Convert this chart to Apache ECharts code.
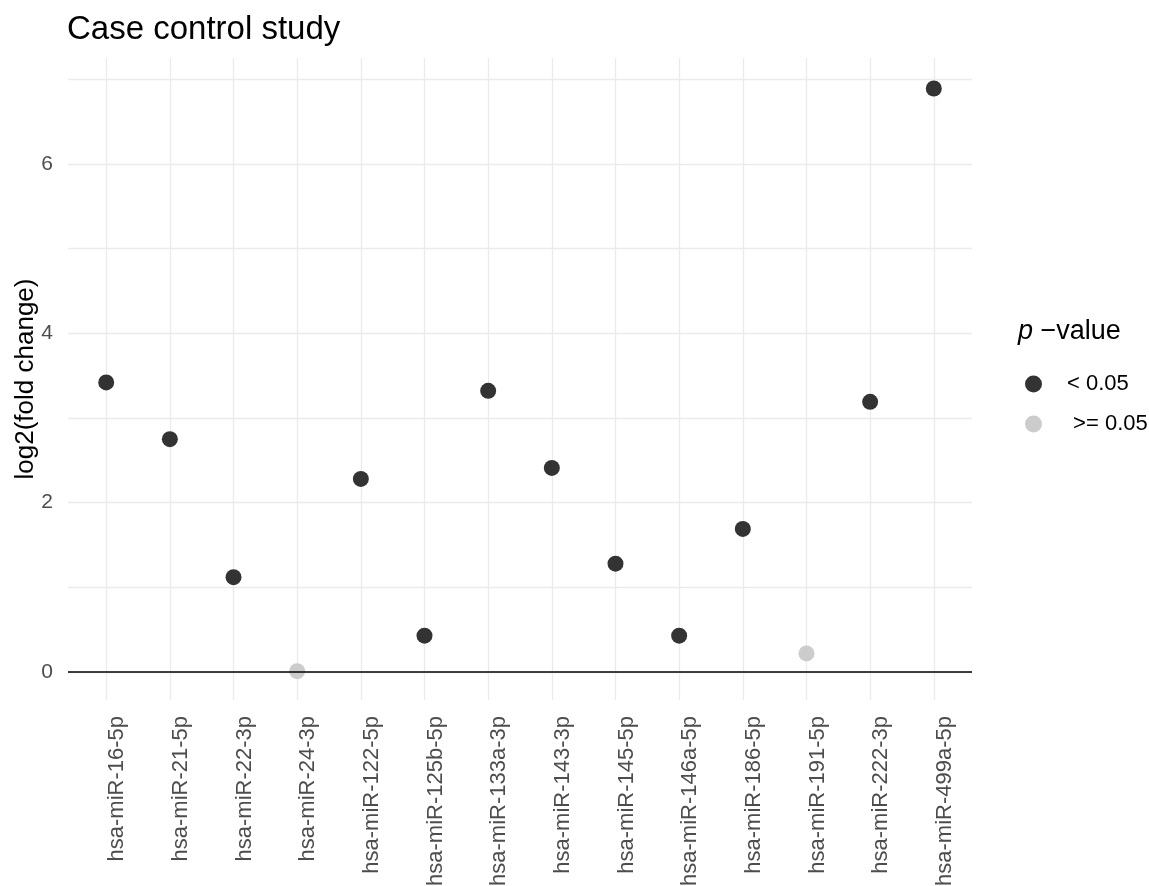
<!DOCTYPE html>
<html>
<head>
<meta charset="utf-8">
<title>Case control study</title>
<script src="https://cdn.jsdelivr.net/npm/echarts@6/dist/echarts.min.js"></script>
<style>
  html, body { margin: 0; padding: 0; background: #ffffff; }
  #chart { width: 1149px; height: 886px; }
</style>
</head>
<body>
<div id="chart"></div>
<script>
// microRNAs measured in the case control study
const categories = [
  'hsa-miR-16-5p', 'hsa-miR-21-5p', 'hsa-miR-22-3p', 'hsa-miR-24-3p',
  'hsa-miR-122-5p', 'hsa-miR-125b-5p', 'hsa-miR-133a-3p', 'hsa-miR-143-3p',
  'hsa-miR-145-5p', 'hsa-miR-146a-5p', 'hsa-miR-186-5p', 'hsa-miR-191-5p',
  'hsa-miR-222-3p', 'hsa-miR-499a-5p'
];
// log2(fold change) per microRNA
const log2FoldChange = [3.42, 2.75, 1.12, 0.01, 2.28, 0.43, 3.32, 2.41, 1.28, 0.43, 1.69, 0.22, 3.19, 6.89];
// p-value group per microRNA
const pGroup = ['sig', 'sig', 'sig', 'ns', 'sig', 'sig', 'sig', 'sig', 'sig', 'sig', 'sig', 'ns', 'sig', 'sig'];
const groupLabels = { sig: '< 0.05', ns: ' >= 0.05' };
const groupColors = { sig: '#333333', ns: '#CCCCCC' };
const yTickLabels = [0, 2, 4, 6];
const yGridValues = [0, 1, 2, 3, 4, 5, 6, 7];

const FONT = '"Liberation Sans", Arial, sans-serif';
const xIdx = categories.map((_, i) => i);

function pointsFor(group) {
  const out = [];
  categories.forEach((c, i) => {
    if (pGroup[i] === group) out.push([i, log2FoldChange[i]]);
  });
  return out;
}

const chart = echarts.init(document.getElementById('chart'), null, { renderer: 'canvas' });

chart.setOption({
  backgroundColor: '#ffffff',
  animation: false,
  title: {
    text: 'Case control study',
    left: 62,
    top: 8,
    textStyle: { fontFamily: FONT, fontSize: 33, fontWeight: 'normal', color: '#000000' }
  },
  grid: { left: 68, right: 177, top: 58, bottom: 186, containLabel: false, outerBoundsMode: 'none' },
  xAxis: {
    type: 'value',
    min: -0.6,
    max: 13.6,
    axisLine: { show: false },
    axisTick: { show: false, customValues: xIdx },
    splitLine: { show: true, lineStyle: { color: '#EBEBEB', width: 1.3 } },
    axisLabel: {
      customValues: xIdx,
      rotate: 90,
      margin: 16,
      verticalAlign: 'top',
      fontFamily: FONT,
      fontSize: 22,
      color: '#4D4D4D',
      formatter: v => categories[v]
    }
  },
  yAxis: {
    type: 'value',
    min: -0.33,
    max: 7.25,
    name: 'log2(fold change)',
    nameLocation: 'middle',
    nameGap: 29,
    nameMoveOverlap: false,
    nameTextStyle: { fontFamily: FONT, fontSize: 26, color: '#000000' },
    axisLine: { show: false },
    axisTick: { show: false, customValues: yGridValues },
    splitLine: { show: true, lineStyle: { color: '#EBEBEB', width: 1.3 } },
    axisLabel: {
      customValues: yTickLabels,
      margin: 15,
      fontFamily: FONT,
      fontSize: 21,
      color: '#4D4D4D'
    }
  },
  legend: {
    orient: 'vertical',
    left: 1025,
    top: 373,
    padding: 0,
    itemWidth: 17,
    itemHeight: 17,
    itemGap: 18,
    icon: 'circle',
    textStyle: { fontFamily: FONT, fontSize: 22, color: '#000000', padding: [0, 0, 0, 20] },
    data: [groupLabels.sig, groupLabels.ns]
  },
  graphic: [{
    type: 'text',
    left: 1018,
    top: 318,
    style: {
      text: '{i|p} −value',
      fontFamily: FONT,
      fontSize: 27,
      fill: '#000000',
      rich: { i: { fontStyle: 'italic', fontFamily: FONT, fontSize: 27 } }
    }
  }],
  series: [
    {
      type: 'line',
      data: [],
      z: 1,
      silent: true,
      markLine: {
        silent: true,
        symbol: 'none',
        label: { show: false },
        lineStyle: { color: '#000000', width: 1.6, type: 'solid' },
        data: [{ yAxis: 0 }]
      }
    },
    {
      name: groupLabels.sig,
      type: 'scatter',
      z: 3,
      symbol: 'circle',
      symbolSize: 16,
      itemStyle: { color: groupColors.sig, opacity: 1 },
      data: pointsFor('sig')
    },
    {
      name: groupLabels.ns,
      type: 'scatter',
      z: 3,
      symbol: 'circle',
      symbolSize: 16,
      itemStyle: { color: groupColors.ns, opacity: 1 },
      data: pointsFor('ns')
    }
  ]
});
</script>
</body>
</html>
